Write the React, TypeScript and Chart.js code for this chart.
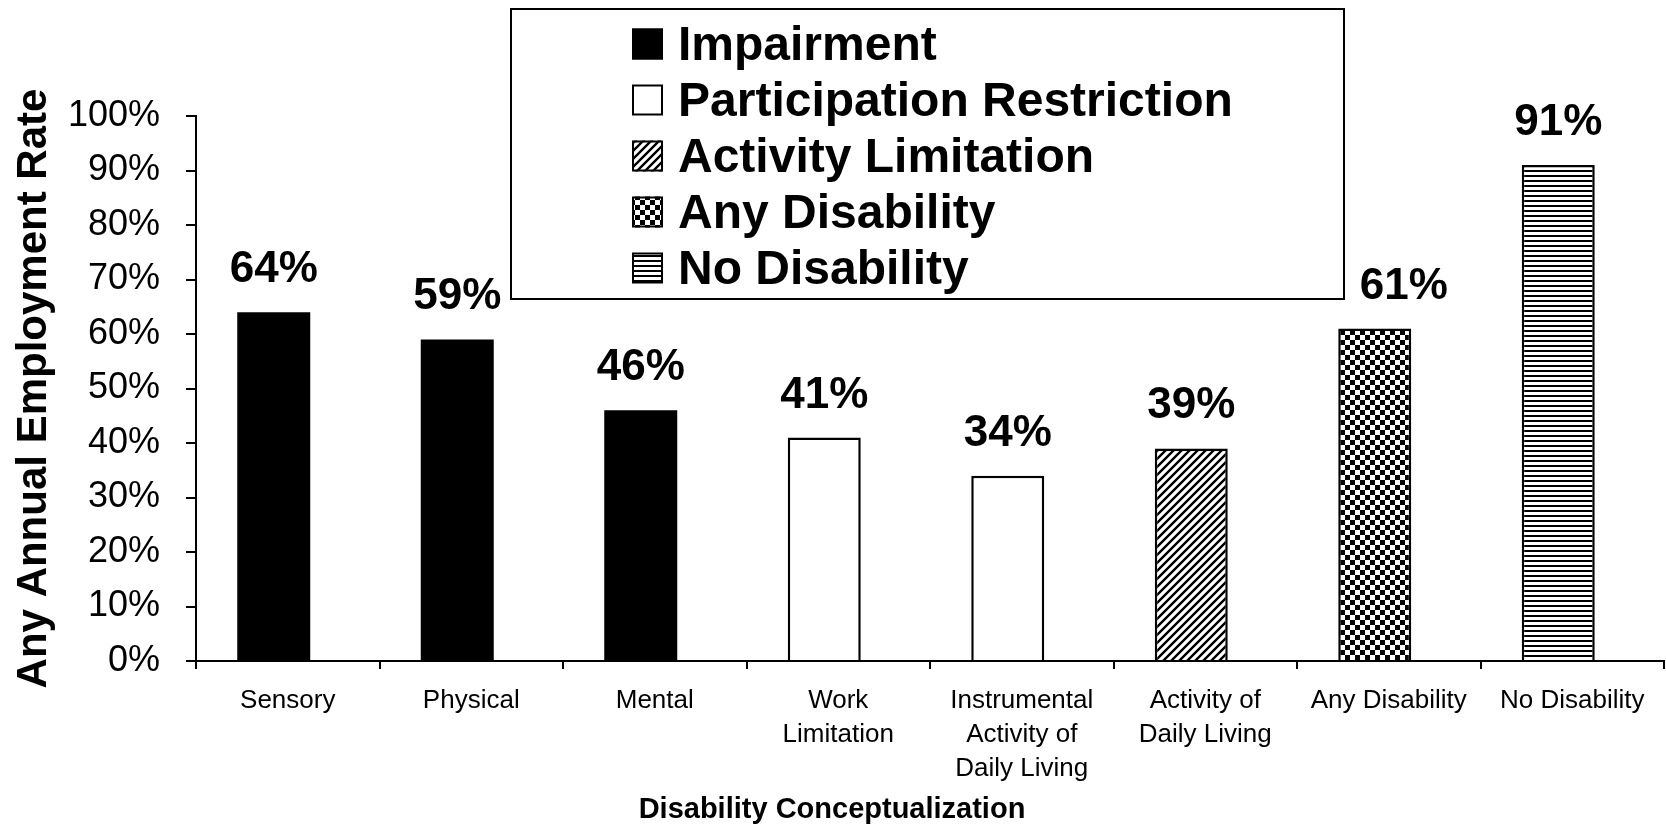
import React, { useEffect, useRef } from "react";
import { Chart, registerables } from "chart.js";

Chart.register(...registerables);

// ---------- data ----------
const categories: (string | string[])[] = [
  "Sensory",
  "Physical",
  "Mental",
  ["Work", "Limitation"],
  ["Instrumental", "Activity of", "Daily Living"],
  ["Activity of", "Daily Living"],
  "Any Disability",
  "No Disability",
];
const employmentRates: number[] = [64, 59, 46, 41, 34, 39, 61, 91];
const barGroups: number[] = [0, 0, 0, 1, 1, 2, 3, 4];
const groupLabels: string[] = [
  "Impairment",
  "Participation Restriction",
  "Activity Limitation",
  "Any Disability",
  "No Disability",
];
const yTickMin = 0;
const yTickMax = 100;
const yTickStep = 10;
const yAxisTitle = "Any Annual Employment Rate";
const xAxisTitle = "Disability Conceptualization";

// ---------- styles ----------
const FONT = "'Liberation Sans', Arial, Helvetica, sans-serif";
const groupFillKinds = ["solid", "white", "diag", "checker", "hlines"];
// horizontal nudge (px) of a value label, to keep it clear of the legend box
const labelNudgeX = [0, 0, 0, 0, 0, 0, 29, 0];

function makeFill(kind: string): CanvasPattern | string {
  if (kind === "solid") return "#000000";
  if (kind === "white") return "#ffffff";
  const c = document.createElement("canvas");
  const ctx = c.getContext("2d")!;
  if (kind === "diag") {
    c.width = 8;
    c.height = 8;
    ctx.fillStyle = "#fff";
    ctx.fillRect(0, 0, 8, 8);
    ctx.strokeStyle = "#000";
    ctx.lineWidth = 2.4;
    ctx.beginPath();
    for (const o of [-8, 0, 8]) {
      ctx.moveTo(o - 1, 9);
      ctx.lineTo(o + 9, -1);
    }
    ctx.stroke();
  } else if (kind === "checker") {
    c.width = 10;
    c.height = 10;
    ctx.fillStyle = "#fff";
    ctx.fillRect(0, 0, 10, 10);
    ctx.fillStyle = "#000";
    ctx.fillRect(0, 0, 5, 5);
    ctx.fillRect(5, 5, 5, 5);
  } else if (kind === "hlines") {
    c.width = 4;
    c.height = 5;
    ctx.fillStyle = "#fff";
    ctx.fillRect(0, 0, 4, 5);
    ctx.fillStyle = "#000";
    ctx.fillRect(0, 0, 4, 2);
  }
  return ctx.createPattern(c, "repeat") as CanvasPattern;
}

export default function App() {
  const canvasRef = useRef<HTMLCanvasElement | null>(null);

  useEffect(() => {
    const canvas = canvasRef.current;
    if (!canvas) return;
    const fills = groupFillKinds.map(makeFill);

    const valueLabels = {
      id: "valueLabels",
      afterDatasetsDraw(chart: any) {
        const meta = chart.getDatasetMeta(0);
        const ctx = chart.ctx;
        ctx.save();
        ctx.font = `bold 44px ${FONT}`;
        ctx.fillStyle = "#000";
        ctx.textAlign = "center";
        ctx.textBaseline = "alphabetic";
        meta.data.forEach((el: any, i: number) => {
          const { x, y } = el.getProps(["x", "y"], true);
          ctx.fillText(employmentRates[i] + "%", x + (labelNudgeX[i] || 0), y - 30);
        });
        ctx.restore();
      },
    };

    const boxLegend = {
      id: "boxLegend",
      afterDraw(chart: any) {
        const ctx = chart.ctx;
        ctx.save();
        const bx = 511, by = 9, bw = 833, bh = 290;
        ctx.fillStyle = "#fff";
        ctx.fillRect(bx, by, bw, bh);
        ctx.strokeStyle = "#000";
        ctx.lineWidth = 2;
        ctx.strokeRect(bx, by, bw, bh);
        ctx.font = `bold 48px ${FONT}`;
        ctx.textAlign = "left";
        ctx.textBaseline = "alphabetic";
        groupLabels.forEach((lab, i) => {
          const cy = 44 + i * 56;
          const s = 31;
          const sx = 632, sy = cy - s / 2;
          ctx.fillStyle = fills[i] as any;
          ctx.fillRect(sx, sy, s, s);
          ctx.strokeStyle = "#000";
          ctx.lineWidth = 2;
          ctx.strokeRect(sx + 1, sy + 1, s - 2, s - 2);
          ctx.fillStyle = "#000";
          ctx.fillText(lab, 678, sy + s);
        });
        ctx.restore();
      },
    };

    const chart = new Chart(canvas, {
      type: "bar",
      data: {
        labels: categories as any,
        datasets: [
          {
            label: yAxisTitle,
            data: employmentRates,
            backgroundColor: barGroups.map((g) => fills[g]) as any,
            borderColor: "#000",
            borderWidth: barGroups.map((g) => (g === 0 ? 0 : 2.5)) as any,
            borderSkipped: "start",
            categoryPercentage: 0.3052,
            barPercentage: 2.607,
          },
          {
            label: "",
            data: employmentRates.map(() => null) as any,
            categoryPercentage: 0.3052,
            barPercentage: 2.607,
          },
        ],
      },
      options: {
        animation: false,
        responsive: false,
        maintainAspectRatio: false,
        layout: { padding: { top: 116, right: 2, left: 0, bottom: 0 } },
        plugins: {
          legend: { display: false },
          tooltip: { enabled: false },
          title: {
            display: true,
            position: "bottom",
            text: xAxisTitle,
            color: "#000",
            font: { family: FONT, size: 29, weight: "bold", lineHeight: 1 },
            padding: { top: 0, bottom: 0 },
          },
        },
        scales: {
          x: {
            offset: true,
            grid: {
              display: true,
              drawOnChartArea: false,
              drawTicks: true,
              tickLength: 8,
              color: "#000",
              lineWidth: 2,
              offset: true,
            },
            border: { display: true, color: "#000", width: 2 },
            ticks: {
              color: "#000",
              font: { family: FONT, size: 26, lineHeight: 1.31 },
              padding: 15,
              maxRotation: 0,
              autoSkip: false,
            },
            afterFit: (s: any) => {
              s.height = 134;
            },
          } as any,
          y: {
            min: yTickMin,
            max: yTickMax,
            ticks: {
              stepSize: yTickStep,
              callback: (v: any) => v + "%",
              color: "#000",
              font: { family: FONT, size: 36 },
              padding: 26,
            },
            grid: {
              display: true,
              drawOnChartArea: false,
              drawTicks: true,
              tickLength: 10,
              color: "#000",
              lineWidth: 2,
            },
            border: { display: true, color: "#000", width: 2 },
            title: {
              display: true,
              text: yAxisTitle,
              color: "#000",
              font: { family: FONT, size: 42, weight: "bold", lineHeight: 1 },
              padding: { top: 13, bottom: 0 },
            },
            afterFit: (s: any) => {
              s.width = 196;
            },
          } as any,
        },
      },
      plugins: [valueLabels, boxLegend],
    });

    return () => chart.destroy();
  }, []);

  return (
    <div style={{ position: "absolute", left: 0, top: 0, width: 1666, height: 824, background: "#fff" }}>
      <canvas ref={canvasRef} width={1666} height={824} style={{ display: "block" }} />
    </div>
  );
}
